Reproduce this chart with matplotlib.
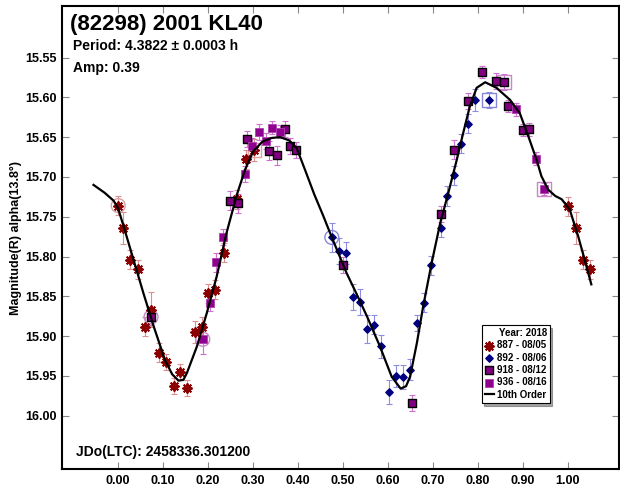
import matplotlib
matplotlib.use("Agg")
import matplotlib.pyplot as plt

plt.rcParams['font.family'] = ['Liberation Sans', 'DejaVu Sans']
plt.rcParams['font.weight'] = 'bold'

# session 887 - 08/05 (red stars)
s887_phase = [0.000, 0.010, 0.027, 0.044, 0.060, 0.073, 0.091, 0.107, 0.123, 0.138,
              0.153, 0.170, 0.186, 0.199, 0.216, 0.236, 0.264, 0.284, 0.303,
              1.001, 1.018, 1.033, 1.049]
s887_mag = [15.736, 15.764, 15.804, 15.816, 15.888, 15.867, 15.921, 15.933, 15.963, 15.945,
            15.965, 15.895, 15.888, 15.846, 15.842, 15.795, 15.728, 15.678, 15.666,
            15.737, 15.764, 15.804, 15.816]
s887_err = [0.012, 0.020, 0.012, 0.012, 0.012, 0.022, 0.012, 0.010, 0.010, 0.010,
            0.010, 0.014, 0.012, 0.012, 0.012, 0.012, 0.012, 0.012, 0.014,
            0.012, 0.020, 0.012, 0.012]

# session 892 - 08/06 (blue diamonds)
s892_phase = [0.475, 0.492, 0.507, 0.521, 0.538, 0.554, 0.569, 0.584, 0.601, 0.617,
              0.633, 0.648, 0.664, 0.680, 0.695, 0.717, 0.730, 0.747, 0.763, 0.778,
              0.793, 0.825]
s892_mag = [15.776, 15.793, 15.796, 15.851, 15.857, 15.891, 15.886, 15.913, 15.970, 15.950,
            15.951, 15.942, 15.883, 15.858, 15.811, 15.764, 15.724, 15.698, 15.658, 15.633,
            15.603, 15.603]
s892_err = [0.018, 0.016, 0.014, 0.016, 0.016, 0.018, 0.012, 0.014, 0.015, 0.014,
            0.015, 0.013, 0.010, 0.012, 0.012, 0.012, 0.012, 0.012, 0.012, 0.012,
            0.014, 0.010]

# session 918 - 08/12 (dark squares)
s918_phase = [0.073, 0.249, 0.266, 0.286, 0.336, 0.353, 0.370, 0.381, 0.395, 0.499,
              0.653, 0.717, 0.747, 0.778, 0.810, 0.841, 0.858, 0.867, 0.901, 0.914]
s918_mag = [15.876, 15.730, 15.733, 15.652, 15.667, 15.673, 15.640, 15.661, 15.666, 15.811,
            15.984, 15.747, 15.666, 15.605, 15.568, 15.580, 15.581, 15.611, 15.641, 15.640]
s918_err = [0.010, 0.012, 0.012, 0.010, 0.012, 0.012, 0.010, 0.010, 0.010, 0.010,
            0.010, 0.010, 0.012, 0.010, 0.008, 0.010, 0.010, 0.008, 0.008, 0.008]

# session 936 - 08/16 (magenta squares)
s936_phase = [0.188, 0.203, 0.218, 0.234, 0.282, 0.297, 0.312, 0.328, 0.343, 0.360,
              0.884, 0.930, 0.946]
s936_mag = [15.904, 15.858, 15.807, 15.775, 15.696, 15.661, 15.643, 15.655, 15.638, 15.643,
            15.615, 15.677, 15.715]
s936_err = [0.018, 0.010, 0.012, 0.010, 0.010, 0.010, 0.010, 0.010, 0.008, 0.008,
            0.008, 0.008, 0.008]

# flagged points (ringed / boxed)
ring_phase = [0.000, 0.073, 0.188, 0.475]
ring_mag = [15.736, 15.876, 15.904, 15.776]
ring_color = ['#d9a0a0', '#c888c8', '#c888c8', '#8888d8']
box_phase = [0.303, 0.825, 0.858, 0.946]
box_mag = [15.666, 15.603, 15.581, 15.715]
box_color = ['#e0a0a0', '#8888d8', '#c888c8', '#c888c8']

# 10th order fit
fit_phase = [-0.055, -0.030, -0.010, 0.000, 0.012, 0.034, 0.056, 0.079, 0.104, 0.120,
             0.134, 0.145, 0.153, 0.175, 0.197, 0.219, 0.241, 0.264, 0.282, 0.300,
             0.320, 0.341, 0.360, 0.380, 0.397, 0.416, 0.436, 0.456, 0.475, 0.508,
             0.530, 0.553, 0.582, 0.608, 0.628, 0.640, 0.649, 0.664, 0.678, 0.697,
             0.716, 0.734, 0.753, 0.767, 0.782, 0.797, 0.816, 0.841, 0.871, 0.893,
             0.912, 0.930, 0.941, 0.956, 0.972, 0.986, 1.004, 1.023, 1.041, 1.052]
fit_mag = [15.710, 15.720, 15.730, 15.740, 15.762, 15.804, 15.846, 15.888, 15.930, 15.948,
           15.956, 15.955, 15.946, 15.913, 15.871, 15.825, 15.770, 15.722, 15.691, 15.668,
           15.656, 15.651, 15.650, 15.654, 15.664, 15.692, 15.722, 15.749, 15.776, 15.821,
           15.847, 15.875, 15.913, 15.951, 15.966, 15.963, 15.951, 15.909, 15.863, 15.808,
           15.758, 15.720, 15.678, 15.645, 15.611, 15.588, 15.581, 15.588, 15.603, 15.620,
           15.649, 15.678, 15.699, 15.716, 15.724, 15.728, 15.741, 15.775, 15.812, 15.835]

x_ticks = [0.0, 0.1, 0.2, 0.3, 0.4, 0.5, 0.6, 0.7, 0.8, 0.9, 1.0]
y_ticks = [15.55, 15.60, 15.65, 15.70, 15.75, 15.80, 15.85, 15.90, 15.95, 16.00]

fig = plt.figure(figsize=(6.2, 4.87), dpi=100)
ax = fig.add_axes([0.1, 0.037, 0.898, 0.951])

ax.errorbar(s887_phase, s887_mag, yerr=s887_err, fmt='none', ecolor='#d89090',
            elinewidth=0.8, capsize=2, capthick=0.8, zorder=2)
ax.errorbar(s892_phase, s892_mag, yerr=s892_err, fmt='none', ecolor='#8c8ce0',
            elinewidth=0.8, capsize=2, capthick=0.8, zorder=2)
ax.errorbar(s918_phase, s918_mag, yerr=s918_err, fmt='none', ecolor='#d070d0',
            elinewidth=0.8, capsize=2, capthick=0.8, zorder=2)
ax.errorbar(s936_phase, s936_mag, yerr=s936_err, fmt='none', ecolor='#d070d0',
            elinewidth=0.8, capsize=2, capthick=0.8, zorder=2)

ax.scatter(ring_phase, ring_mag, s=100, facecolors='none', edgecolors=ring_color,
           linewidths=1.0, zorder=3)
ax.scatter(box_phase, box_mag, s=100, marker='s', facecolors='none', edgecolors=box_color,
           linewidths=1.0, zorder=3)

h887 = ax.scatter(s887_phase, s887_mag, s=40, marker=(8, 2, 0), color='#8b0000',
                  linewidths=1.4, zorder=4, label='887 - 08/05')
h892 = ax.scatter(s892_phase, s892_mag, s=14, marker='D', color='#000080',
                  zorder=4, label='892 - 08/06')
h918 = ax.scatter(s918_phase, s918_mag, s=30, marker='s', facecolor='#800080',
                  edgecolor='black', linewidths=1.0, zorder=4, label='918 - 08/12')
h936 = ax.scatter(s936_phase, s936_mag, s=28, marker='s', facecolor='#8e008e',
                  edgecolor='#b040b0', linewidths=0.6, zorder=4, label='936 - 08/16')
hfit, = ax.plot(fit_phase, fit_mag, color='black', lw=1.6, zorder=5, label='10th Order')

ax.set_xlim(-0.125, 1.113)
ax.set_ylim(16.067, 15.485)
ax.set_xticks(x_ticks)
ax.set_xticklabels(['%.2f' % t for t in x_ticks])
ax.set_yticks(y_ticks)
ax.set_yticklabels(['%.2f' % t for t in y_ticks])
ax.tick_params(direction='in', top=True, right=True, length=5, width=0.8,
               color='#888888', labelsize=9, pad=4)
for lab in ax.get_xticklabels() + ax.get_yticklabels():
    lab.set_fontweight('bold')
for sp in ax.spines.values():
    sp.set_linewidth(1.5)

fig.text(0.026, 0.511, 'Magnitude(R) alpha(13.8°)', rotation=90, ha='center',
         va='center', fontsize=9, fontweight='bold')
fig.text(0.113, 0.949, '(82298) 2001 KL40', fontsize=16, fontweight='bold', va='center')
fig.text(0.118, 0.906, 'Period: 4.3822 ± 0.0003 h', fontsize=10, fontweight='bold',
         va='center')
fig.text(0.118, 0.860, 'Amp: 0.39', fontsize=10, fontweight='bold', va='center')
fig.text(0.123, 0.072, 'JDo(LTC): 2458336.301200', fontsize=10, fontweight='bold',
         va='center')

leg = ax.legend(handles=[h887, h892, h918, h936, hfit], title='Year: 2018',
                loc='lower right', bbox_to_anchor=(0.876, 0.143), fontsize=7,
                title_fontproperties={'weight': 'bold', 'size': 7},
                prop={'weight': 'bold', 'size': 7}, frameon=True, fancybox=False,
                shadow=True, edgecolor='black', framealpha=1, handlelength=1.0,
                handletextpad=0.3, labelspacing=0.25, borderpad=0.3,
                borderaxespad=0, alignment='right')
leg.get_frame().set_linewidth(0.8)

fig.savefig('out.png', dpi=100)
